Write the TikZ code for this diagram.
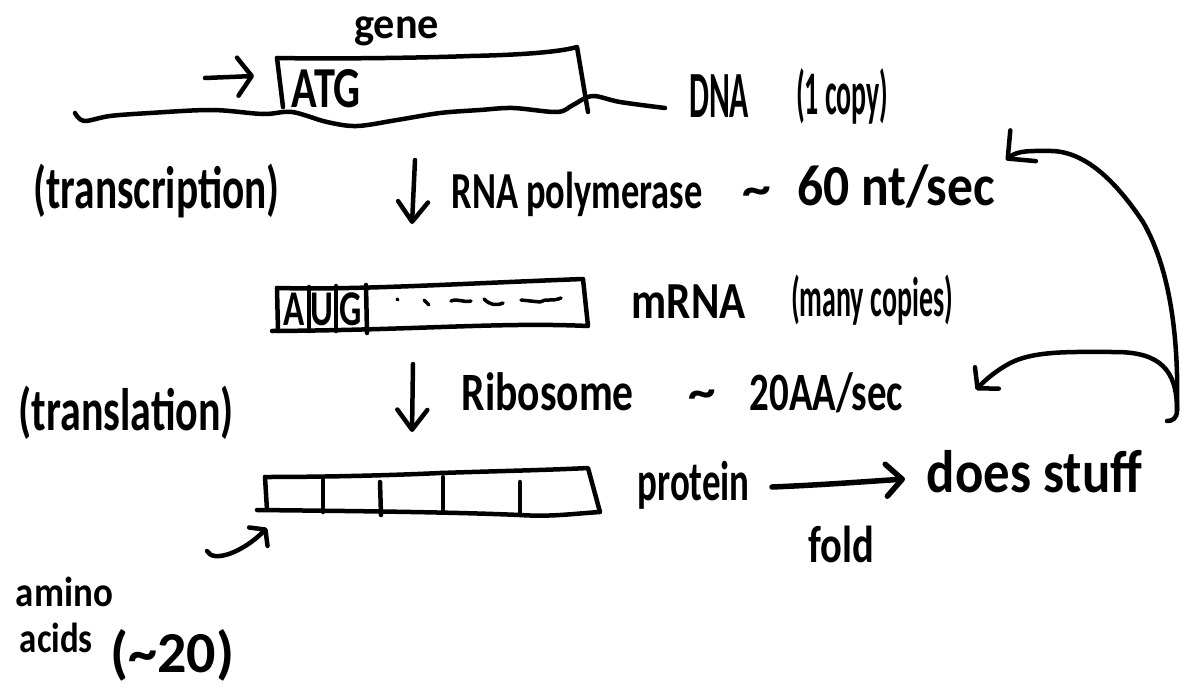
\documentclass[tikz,border=0pt]{standalone}
\usepackage{fontspec}
\setmainfont{Carlito}
\usetikzlibrary{arrows.meta}
\tikzset{
  ink/.style={line width=4.5pt, line cap=round, line join=round},
  hand/.style 2 args={font=\fontsize{#1}{#1}\selectfont\bfseries, xscale=#2, inner sep=0pt, anchor=base west},
  barb/.style 2 args={-{Straight Barb[round, length=#1pt, width=#2pt]}},
  thin ink/.style={line width=3.5pt}
}
\begin{document}
\begin{tikzpicture}[x=1pt, y=-1pt, ink]
\useasboundingbox (0,0) rectangle (1183,688);

% ---- DNA with the gene ----
\node[hand={44}{0.96}] (gene) at (352,38) {gene};
\draw (277,58) .. controls (330,59) and (420,58) .. (470,56)
      .. controls (520,55) and (560,52) .. (577,47) -- (588,112);
\draw (277,58) -- (283,107);
\node[hand={58}{0.73}] (atg) at (290,107) {ATG};
\draw plot[smooth, tension=0.55] coordinates {(75,113) (84,121) (110,116) (150,113)
  (212,110) (263,114) (292,112) (327,122) (357,126) (397,120) (440,113) (480,110)
  (513,108) (557,112) (573,105) (592,96) (620,102) (665,108)};
\coordinate (tss) at (205,78);
\coordinate (tssend) at (254,76);
\draw[barb={14}{38}] (tss) -- (tssend);
\node[hand={66}{0.48}] (dna) at (688,117) {DNA};
\node[hand={62}{0.45}] (dnacopies) at (795,114) {(1 copy)};

% ---- transcription ----
\node[hand={60}{0.69}] (txn) at (32,208) {(transcription)};
\coordinate (tx1) at (415,160);
\coordinate (tx2) at (412,224);
\draw[barb={20}{30}] (tx1) -- (tx2);
\node[hand={52}{0.70}] (rnap) at (450,208) {RNA polymerase};
\node[hand={50}{1.15}] (tilde1) at (740,205) {\textasciitilde};
\node[hand={58}{0.89}] (rate1) at (795,205) {60 nt/sec};

% ---- mRNA ----
\draw (277,288) .. controls (360,290) and (450,284) .. (583,279) -- (588,326)
      .. controls (500,322) and (420,330) .. (272,331);
\draw (277,288) -- (278,331);
\draw (309,287) -- (309,331);
\draw (336,286) -- (336,331);
\draw (366,285) -- (367,333);
\node[hand={50}{0.7}, anchor=base] (ca) at (294,325) {A};
\node[hand={50}{0.7}, anchor=base] (cu) at (322,325) {U};
\node[hand={50}{0.7}, anchor=base] (cg) at (351,325) {G};
\begin{scope}[thin ink]
  \draw (397,299) -- (398,300);
  \draw (424,300) -- (429,305);
  \draw (451,301) .. controls (458,298) and (463,303) .. (471,301);
  \draw (484,299) .. controls (490,305) and (496,306) .. (503,303);
  \draw (521,300) -- (540,302) .. controls (546,298) and (552,302) .. (561,298);
\end{scope}
\node[hand={52}{0.83}] (mrna) at (630,318) {mRNA};
\node[hand={56}{0.5}] (mrnacopies) at (790,316) {(many copies)};

% ---- translation ----
\node[hand={60}{0.7}] (tln) at (17,430) {(translation)};
\coordinate (tl1) at (413,364);
\coordinate (tl2) at (412,432);
\draw[barb={20}{30}] (tl1) -- (tl2);
\node[hand={54}{0.77}] (ribo) at (460,410) {Ribosome};
\node[hand={50}{1.1}] (tilde2) at (686,408) {\textasciitilde};
\node[hand={54}{0.72}] (rate2) at (748,410) {20AA/sec};

% ---- protein ----
\draw (265,477) .. controls (330,477) and (400,475) .. (440,473)
      .. controls (500,471) and (550,470) .. (588,468) -- (600,512)
      .. controls (570,514) and (550,517) .. (520,515)
      .. controls (450,512) and (350,511) .. (257,510);
\draw (265,477) -- (267,510);
\draw (323,480) -- (323,512);
\draw (380,482) -- (381,515);
\draw (443,477) -- (443,512);
\draw (520,482) -- (520,515);
\node[hand={56}{0.66}] (protein) at (636,500) {protein};
\coordinate (foldA) at (772,487);
\coordinate (foldB) at (905,479);
\draw[line width=5.5pt, barb={16}{32}] (foldA) .. controls (820,485) and (860,482) .. (foldB);
\node[hand={60}{0.88}] (does) at (925,492) {does stuff};
\node[hand={52}{0.78}] (fold) at (807,562) {fold};

% ---- feedback onto both rates ----
\coordinate (fb) at (1177,410);
\coordinate (fbhook) at (1167,421);
\coordinate (fbtx) at (1006,160);
\coordinate (fbtl) at (976,390);
\draw (fbhook) .. controls (1172,421) and (1177,419) .. (fb);
\draw[barb={20}{40}] (fb) .. controls (1179,330) and (1168,265) .. (1143,222)
      .. controls (1115,180) and (1085,152) .. (1052,151)
      .. controls (1032,151) and (1018,150) .. (fbtx);
\draw[barb={14}{32}] (fb) .. controls (1177,370) and (1160,352) .. (1115,352)
      .. controls (1070,352) and (1030,350) .. (1005,366)
      .. controls (995,372) and (985,380) .. (fbtl);

% ---- amino acids ----
\coordinate (aa1) at (207,551);
\coordinate (aa2) at (267,528);
\draw[barb={10}{26}] (aa1) .. controls (213,563) and (242,553) .. (aa2);
\node[hand={42}{0.88}] (amino) at (14,606) {amino};
\node[hand={42}{0.83}] (acids) at (18,652) {acids};
\node[hand={58}{1.0}] (aacount) at (108,672) {(\textasciitilde20)};
\end{tikzpicture}
\end{document}
